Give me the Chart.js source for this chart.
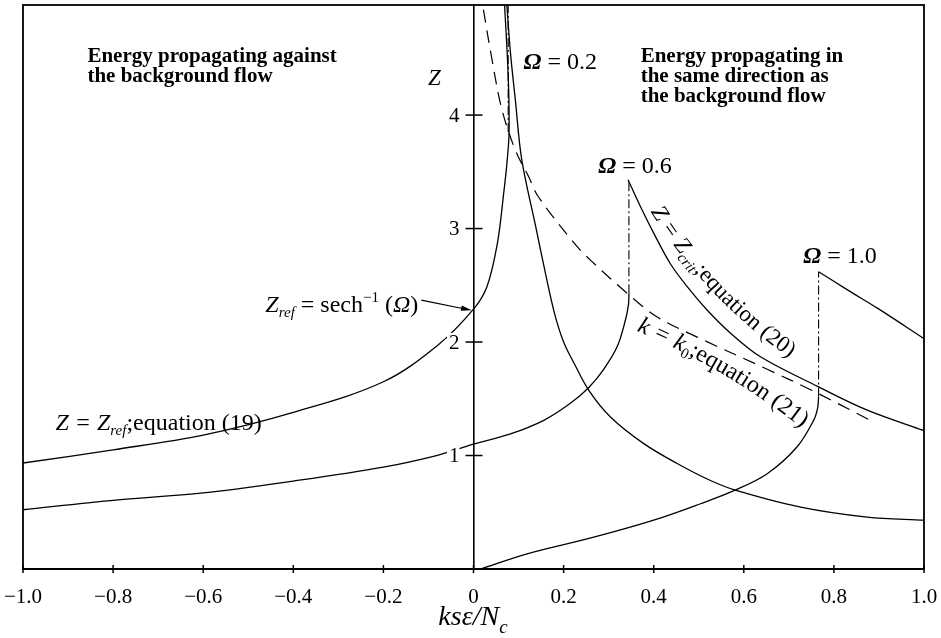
<!DOCTYPE html>
<html>
<head>
<meta charset="utf-8">
<script src="https://cdn.jsdelivr.net/npm/chart.js@4.4.1/dist/chart.umd.min.js"></script>
<style>
  html, body { margin: 0; background: #fff; }
</style>
</head>
<body>
<canvas id="grafico" width="941" height="638"></canvas>
<script>
// valores (x = ks eps / Nc, z = Z)
const raio02X = [-1.0, -0.8, -0.6, -0.4, -0.2, -0.08, 0, 0.03, 0.053, 0.067, 0.075, 0.079, 0.077, 0.069];
const raio02Z = [0.934, 1.05, 1.18, 1.38, 1.65, 1.97, 2.29, 2.49, 2.87, 3.31, 3.61, 3.85, 4.35, 4.97];
const vert02X = [0.077, 0.077];
const vert02Z = [3.85, 4.97];
const crit02X = [0.074, 0.082, 0.093, 0.107, 0.138, 0.16, 0.18, 0.20, 0.225, 0.256, 0.304, 0.378, 0.452, 0.526, 0.585, 0.726, 0.874, 1.0];
const crit02Z = [4.97, 4.55, 4.13, 3.61, 3.02, 2.60, 2.25, 2.00, 1.80, 1.575, 1.34, 1.105, 0.93, 0.78, 0.69, 0.545, 0.457, 0.43];

const raio06X = [-1.0, -0.8, -0.6, -0.4, -0.2, -0.08, 0, 0.082, 0.156, 0.215, 0.256, 0.289, 0.319, 0.337, 0.344, 0.345];
const raio06Z = [0.522, 0.605, 0.67, 0.775, 0.898, 1.002, 1.10, 1.19, 1.31, 1.46, 1.60, 1.76, 1.96, 2.19, 2.33, 2.43];
const vert06X = [0.345, 0.345];
const vert06Z = [2.43, 3.43];
const crit06X = [0.343, 0.371, 0.40, 0.437, 0.474, 0.519, 0.57, 0.637, 0.766, 0.874, 1.0];
const crit06Z = [3.43, 3.19, 2.96, 2.69, 2.49, 2.28, 2.08, 1.87, 1.605, 1.40, 1.22];

const raio10X = [0.016, 0.119, 0.267, 0.40, 0.504, 0.578, 0.652, 0.718, 0.755, 0.764, 0.766];
const raio10Z = [0, 0.134, 0.28, 0.43, 0.575, 0.69, 0.84, 1.075, 1.31, 1.42, 1.52];
const vert10X = [0.766, 0.766];
const vert10Z = [1.52, 2.62];
const crit10X = [0.766, 0.83, 0.9, 1.0];
const crit10Z = [2.62, 2.46, 2.29, 2.03];

const k0X = [0.022, 0.041, 0.063, 0.093, 0.122, 0.144, 0.226, 0.26, 0.341, 0.408, 0.504, 0.652, 0.748, 0.881];
const k0Z = [4.93, 4.49, 4.05, 3.69, 3.46, 3.28, 2.86, 2.72, 2.43, 2.22, 2.03, 1.76, 1.58, 1.31];

const xTicks = [-1.0, -0.8, -0.6, -0.4, -0.2, 0, 0.2, 0.4, 0.6, 0.8, 1.0];
const xTickLabels = ['\u22121.0', '\u22120.8', '\u22120.6', '\u22120.4', '\u22120.2', '0', '0.2', '0.4', '0.6', '0.8', '1.0'];
const zTicks = [1, 2, 3, 4];
const zTickLabels = ['1', '2', '3', '4'];

const serif = "'Liberation Serif', 'Times New Roman', serif";

const pares = (xs, zs) => xs.map((v, i) => ({ x: v, y: zs[i] }));

const linha = (xs, zs, extra) => Object.assign({
  data: pares(xs, zs),
  showLine: true,
  borderColor: '#000',
  borderWidth: 1.3,
  pointRadius: 0,
  tension: 0.35,
  fill: false
}, extra || {});

const tracoPonto = { borderDash: [9, 3, 2, 3], borderWidth: 1.1, tension: 0 };

function trecho(ctx, partes, x, y) {
  let cx = x;
  for (const [t, f, dy] of partes) {
    ctx.font = f;
    ctx.fillText(t, cx, y + (dy || 0));
    cx += ctx.measureText(t).width;
  }
  return cx;
}

function aoLongo(ctx, partes, x, y, ang0, ang1) {
  let total = 0;
  for (const [t, f] of partes) { ctx.font = f; total += ctx.measureText(t).width; }
  let s = 0, px = x, py = y;
  for (const [t, f, dy] of partes) {
    ctx.font = f;
    for (const ch of t) {
      const w = ctx.measureText(ch).width;
      const a = (ang0 + (ang1 - ang0) * (s + w / 2) / total) * Math.PI / 180;
      ctx.save();
      ctx.translate(px, py);
      ctx.rotate(a);
      ctx.fillText(ch, 0, dy || 0);
      ctx.restore();
      px += w * Math.cos(a);
      py += w * Math.sin(a);
      s += w;
    }
  }
}

const notas = {
  id: 'notas',
  afterDraw(chart) {
    const { ctx, chartArea: a } = chart;
    const sx = chart.scales.x, sy = chart.scales.y;
    const P = (xv, zv) => [sx.getPixelForValue(xv), sy.getPixelForValue(zv)];
    ctx.save();
    ctx.strokeStyle = '#000';
    ctx.fillStyle = '#000';

    // moldura
    ctx.lineWidth = 1.8;
    ctx.strokeRect(a.left, a.top, a.right - a.left, a.bottom - a.top);

    // marcas e rotulos do eixo Z (sobre o eixo em x = 0)
    const x0 = sx.getPixelForValue(0);
    ctx.font = '21px ' + serif;
    ctx.textAlign = 'right';
    ctx.textBaseline = 'middle';
    zTicks.forEach((v, i) => {
      const yp = sy.getPixelForValue(v);
      const w = ctx.measureText(zTickLabels[i]).width;
      ctx.fillStyle = '#fff';
      ctx.fillRect(x0 - 15 - w - 1, yp - 9, w + 2, 18);
      ctx.fillStyle = '#000';
      ctx.fillText(zTickLabels[i], x0 - 14, yp + 1);
      ctx.lineWidth = 1.5;
      ctx.beginPath(); ctx.moveTo(x0 - 8, yp); ctx.lineTo(x0 + 9, yp); ctx.stroke();
    });
    ctx.lineWidth = 1.5;
    for (const v of xTicks) {
      const xp = sx.getPixelForValue(v);
      ctx.beginPath(); ctx.moveTo(xp, a.bottom - 4); ctx.lineTo(xp, a.bottom + 4); ctx.stroke();
    }

    ctx.textBaseline = 'alphabetic';
    ctx.textAlign = 'left';
    const b21 = 'bold 21px ' + serif;
    const r24 = '24px ' + serif;
    const i24 = 'italic 24px ' + serif;
    const i15 = 'italic 15px ' + serif;
    const r15 = '15px ' + serif;
    const bi24 = 'bold italic 24px ' + serif;

    let p = P(-0.857, 4.47);
    trecho(ctx, [['Energy propagating against', b21]], p[0], p[1]);
    p = P(-0.857, 4.294);
    trecho(ctx, [['the background flow', b21]], p[0], p[1]);

    p = P(0.371, 4.464);
    trecho(ctx, [['Energy propagating in', b21]], p[0], p[1]);
    p = P(0.371, 4.288);
    trecho(ctx, [['the same direction as', b21]], p[0], p[1]);
    p = P(0.371, 4.111);
    trecho(ctx, [['the background flow', b21]], p[0], p[1]);

    p = P(-0.087, 4.267);
    ctx.textAlign = 'center';
    ctx.font = 'italic 23px ' + serif;
    ctx.fillText('Z', p[0], p[1]);
    ctx.textAlign = 'left';

    p = P(0.111, 4.409);
    trecho(ctx, [['\u03A9', bi24], [' = 0.2', r24]], p[0], p[1]);
    p = P(0.277, 3.488);
    trecho(ctx, [['\u03A9', bi24], [' = 0.6', r24]], p[0], p[1]);
    p = P(0.732, 2.694);
    trecho(ctx, [['\u03A9', bi24], [' = 1.0', r24]], p[0], p[1]);

    p = P(-0.462, 2.264);
    const fim = trecho(ctx, [['Z', i24], ['ref', i15, 5], [' = sech', r24], ['\u22121', r15, -10], [' (', r24], ['\u03A9', i24], [')', r24]], p[0], p[1]);
    // seta
    const ponta = P(-0.004, 2.28);
    const ini = [fim + 3, p[1] - 12];
    ctx.lineWidth = 1.2;
    ctx.beginPath(); ctx.moveTo(ini[0], ini[1]); ctx.lineTo(ponta[0] - 8, ponta[1] - 1.5); ctx.stroke();
    const ang = Math.atan2(ponta[1] - ini[1], ponta[0] - ini[0]);
    ctx.beginPath();
    ctx.moveTo(ponta[0], ponta[1]);
    ctx.lineTo(ponta[0] - 11 * Math.cos(ang - 0.25), ponta[1] - 11 * Math.sin(ang - 0.25));
    ctx.lineTo(ponta[0] - 11 * Math.cos(ang + 0.25), ponta[1] - 11 * Math.sin(ang + 0.25));
    ctx.closePath(); ctx.fill();

    p = P(-0.928, 1.222);
    trecho(ctx, [['Z = Z', i24], ['ref', i15, 5], [';equation (19)', r24]], p[0], p[1]);

    p = P(0.393, 3.15);
    aoLongo(ctx, [['Z = Z', 'italic 23px ' + serif], ['crit', 'italic 15px ' + serif, 5], [';equation (20)', '23px ' + serif]], p[0], p[1], 58, 35);

    p = P(0.362, 2.10);
    aoLongo(ctx, [['k = k', i24], ['0', r15, 5], [';equation (21)', r24]], p[0], p[1], 23, 38);

    // titulo do eixo x
    const tx = sx.getPixelForValue(-0.078);
    const ty = a.bottom + 56;
    trecho(ctx, [['ks\u03B5/N', 'italic 28px ' + serif], ['c', 'italic 19px ' + serif, 8]], tx, ty);

    ctx.restore();
  }
};

new Chart(document.getElementById('grafico'), {
  type: 'scatter',
  data: {
    datasets: [
      linha(raio02X, raio02Z),
      linha(vert02X, vert02Z, tracoPonto),
      linha(crit02X, crit02Z),
      linha(raio06X, raio06Z),
      linha(vert06X, vert06Z, tracoPonto),
      linha(crit06X, crit06Z),
      linha(raio10X, raio10Z),
      linha(vert10X, vert10Z, tracoPonto),
      linha(crit10X, crit10Z),
      linha(k0X, k0Z, { borderDash: [13, 8], borderWidth: 1.2 })
    ]
  },
  options: {
    responsive: false,
    devicePixelRatio: 1,
    animation: false,
    layout: { padding: { left: 23, right: 17, top: 5, bottom: 0 } },
    plugins: { legend: { display: false }, tooltip: { enabled: false } },
    scales: {
      x: {
        type: 'linear',
        min: -1,
        max: 1,
        grid: { display: false },
        border: { display: true, color: '#000', width: 2 },
        ticks: {
          color: '#000',
          font: { family: serif, size: 21 },
          padding: 8,
          maxRotation: 0,
          callback: (v) => {
            const i = xTicks.findIndex(t => Math.abs(t - v) < 1e-6);
            return i >= 0 ? xTickLabels[i] : '';
          }
        },
        afterBuildTicks: (s) => { s.ticks = xTicks.map(v => ({ value: v })); },
        afterFit: (s) => { s.height = 69; s.paddingLeft = 0; s.paddingRight = 0; }
      },
      y: {
        type: 'linear',
        min: 0,
        max: 4.97,
        position: { x: 0 },
        grid: { display: false },
        border: { display: true, color: '#000', width: 1.6 },
        ticks: { display: false },
        afterBuildTicks: (s) => { s.ticks = zTicks.map(v => ({ value: v })); },
        afterFit: (s) => { s.paddingTop = 0; s.paddingBottom = 0; }
      }
    }
  },
  plugins: [notas]
});
</script>
</body>
</html>
